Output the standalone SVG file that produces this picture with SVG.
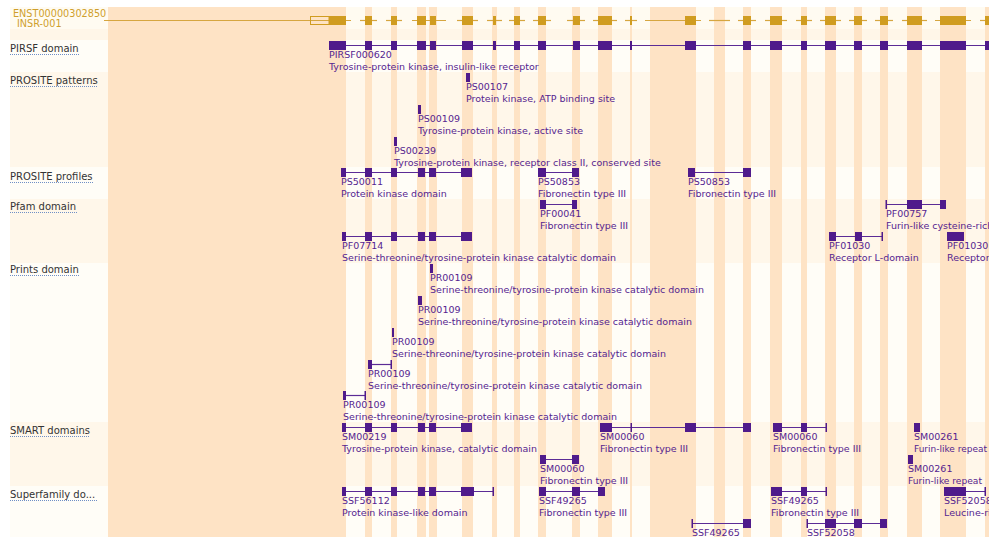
<svg xmlns="http://www.w3.org/2000/svg" width="989" height="537" viewBox="0 0 989 537">
<style>
.lbl{font-family:"DejaVu Sans",sans-serif;font-size:10px;fill:#333}
.ul{stroke:#6f8fc6;stroke-width:1;stroke-dasharray:1,1}
.ft{font-family:"DejaVu Sans",sans-serif;font-size:9.5px;fill:#55248f}
.tt{font-family:"DejaVu Sans",sans-serif;font-size:9.7px;fill:#cf9f2c}
.b{fill:#4f1a8b}
.ln{stroke:#5b2b96;stroke-width:1.2}
.ex{fill:#d09c20}
.gl{stroke:#d6a640;stroke-width:1.2}
.st{fill:#fee3c5}
</style>
<rect width="989" height="537" fill="#ffffff"/>
<g id="bands">
<rect x="10" y="7" width="979" height="22" fill="#fffbf1"/>
<rect x="10" y="29" width="979" height="11" fill="#fff6e8"/>
<rect x="10" y="40" width="979" height="32" fill="#fffdf7"/>
<rect x="10" y="72" width="979" height="95" fill="#fff7ea"/>
<rect x="10" y="167" width="979" height="32" fill="#fffdf7"/>
<rect x="10" y="199" width="979" height="64" fill="#fff7ea"/>
<rect x="10" y="263" width="979" height="159" fill="#fffdf7"/>
<rect x="10" y="422" width="979" height="64" fill="#fff7ea"/>
<rect x="10" y="486" width="979" height="51" fill="#fffdf7"/>
</g>
<g id="stripes">
<rect class="st" x="108" y="7" width="238" height="530"/>
<rect class="st" x="365" y="7" width="7" height="530"/>
<rect class="st" x="391" y="7" width="6" height="530"/>
<rect class="st" x="417" y="7" width="9" height="530"/>
<rect class="st" x="429" y="7" width="8" height="530"/>
<rect class="st" x="462" y="7" width="11" height="530"/>
<rect class="st" x="492" y="7" width="5" height="530"/>
<rect class="st" x="514" y="7" width="6" height="530"/>
<rect class="st" x="538" y="7" width="8" height="530"/>
<rect class="st" x="572" y="7" width="8" height="530"/>
<rect class="st" x="598" y="7" width="14" height="530"/>
<rect class="st" x="630" y="7" width="2" height="530"/>
<rect class="st" x="650" y="7" width="46" height="530"/>
<rect class="st" x="714" y="7" width="11" height="530"/>
<rect class="st" x="743" y="7" width="8" height="530"/>
<rect class="st" x="770" y="7" width="12" height="530"/>
<rect class="st" x="801" y="7" width="6" height="530"/>
<rect class="st" x="825" y="7" width="11" height="530"/>
<rect class="st" x="854" y="7" width="8" height="530"/>
<rect class="st" x="880" y="7" width="8" height="530"/>
<rect class="st" x="907" y="7" width="15" height="530"/>
<rect class="st" x="940" y="7" width="26" height="530"/>
<rect class="st" x="985" y="7" width="4" height="530"/>
</g>
<g id="track-labels">
<text class="lbl" x="10" y="52">PIRSF domain</text><line class="ul" x1="10" y1="54.5" x2="80" y2="54.5"/>
<text class="lbl" x="10" y="84">PROSITE patterns</text><line class="ul" x1="10" y1="86.5" x2="98" y2="86.5"/>
<text class="lbl" x="10" y="180">PROSITE profiles</text><line class="ul" x1="10" y1="182.5" x2="93" y2="182.5"/>
<text class="lbl" x="10" y="210">Pfam domain</text><line class="ul" x1="10" y1="212.5" x2="77" y2="212.5"/>
<text class="lbl" x="10" y="273">Prints domain</text><line class="ul" x1="10" y1="275.5" x2="80" y2="275.5"/>
<text class="lbl" x="10" y="434">SMART domains</text><line class="ul" x1="10" y1="436.5" x2="90" y2="436.5"/>
<text class="lbl" x="10" y="498">Superfamily do...</text><line class="ul" x1="10" y1="500.5" x2="97" y2="500.5"/>
</g>
<g id="transcript">
<text class="tt" x="13" y="17">ENST00000302850</text>
<text class="tt" x="17" y="27">INSR-001</text>
<g id="intron-lines">
<line class="gl" x1="104" y1="20.5" x2="351" y2="20.5"/>
<line class="gl" x1="360" y1="20.5" x2="377" y2="20.5"/>
<line class="gl" x1="386" y1="20.5" x2="402" y2="20.5"/>
<line class="gl" x1="412" y1="20.5" x2="446" y2="20.5"/>
<line class="gl" x1="457" y1="20.5" x2="478" y2="20.5"/>
<line class="gl" x1="487" y1="20.5" x2="502" y2="20.5"/>
<line class="gl" x1="509" y1="20.5" x2="525" y2="20.5"/>
<line class="gl" x1="533" y1="20.5" x2="551" y2="20.5"/>
<line class="gl" x1="567" y1="20.5" x2="585" y2="20.5"/>
<line class="gl" x1="593" y1="20.5" x2="617" y2="20.5"/>
<line class="gl" x1="625" y1="20.5" x2="637" y2="20.5"/>
<line class="gl" x1="645" y1="20.5" x2="701" y2="20.5"/>
<line class="gl" x1="709" y1="20.5" x2="730" y2="20.5"/>
<line class="gl" x1="738" y1="20.5" x2="756" y2="20.5"/>
<line class="gl" x1="765" y1="20.5" x2="787" y2="20.5"/>
<line class="gl" x1="796" y1="20.5" x2="812" y2="20.5"/>
<line class="gl" x1="820" y1="20.5" x2="841" y2="20.5"/>
<line class="gl" x1="849" y1="20.5" x2="867" y2="20.5"/>
<line class="gl" x1="875" y1="20.5" x2="893" y2="20.5"/>
<line class="gl" x1="902" y1="20.5" x2="927" y2="20.5"/>
<line class="gl" x1="935" y1="20.5" x2="971" y2="20.5"/>
<line class="gl" x1="980" y1="20.5" x2="989" y2="20.5"/>
</g>
<rect x="310.5" y="16.5" width="18.5" height="8" fill="none" stroke="#d09c20" stroke-width="1"/>
<rect class="ex" x="329" y="16" width="17" height="9"/>
<rect class="ex" x="365" y="16" width="7" height="9"/>
<rect class="ex" x="391" y="16" width="6" height="9"/>
<rect class="ex" x="417" y="16" width="9" height="9"/>
<rect class="ex" x="430" y="16" width="6" height="9"/>
<rect class="ex" x="462" y="16" width="11" height="9"/>
<rect class="ex" x="493" y="16" width="3" height="9"/>
<rect class="ex" x="514" y="16" width="6" height="9"/>
<rect class="ex" x="538" y="16" width="8" height="9"/>
<rect class="ex" x="573" y="16" width="7" height="9"/>
<rect class="ex" x="598" y="16" width="14" height="9"/>
<rect class="ex" x="630" y="16" width="2" height="9"/>
<rect class="ex" x="685" y="16" width="11" height="9"/>
<rect class="ex" x="743" y="16" width="8" height="9"/>
<rect class="ex" x="770" y="16" width="12" height="9"/>
<rect class="ex" x="801" y="16" width="6" height="9"/>
<rect class="ex" x="825" y="16" width="11" height="9"/>
<rect class="ex" x="854" y="16" width="8" height="9"/>
<rect class="ex" x="880" y="16" width="8" height="9"/>
<rect class="ex" x="907" y="16" width="15" height="9"/>
<rect class="ex" x="940" y="16" width="26" height="9"/>
<rect class="ex" x="985" y="16" width="4" height="9"/>
</g>
<g id="connectors">
<line class="ln" x1="329" y1="45.5" x2="989" y2="45.5"/>
<line class="ln" x1="341" y1="172.5" x2="472" y2="172.5"/>
<line class="ln" x1="538" y1="172.5" x2="579" y2="172.5"/>
<line class="ln" x1="688" y1="172.5" x2="751" y2="172.5"/>
<line class="ln" x1="540" y1="204.5" x2="577" y2="204.5"/>
<line class="ln" x1="886" y1="204.5" x2="946" y2="204.5"/>
<line class="ln" x1="342" y1="236.5" x2="472" y2="236.5"/>
<line class="ln" x1="829" y1="236.5" x2="882" y2="236.5"/>
<line class="ln" x1="368" y1="364.5" x2="391" y2="364.5"/>
<line class="ln" x1="343" y1="395.5" x2="365" y2="395.5"/>
<line class="ln" x1="342" y1="427.5" x2="472" y2="427.5"/>
<line class="ln" x1="600" y1="427.5" x2="751" y2="427.5"/>
<line class="ln" x1="773" y1="427.5" x2="826" y2="427.5"/>
<line class="ln" x1="540" y1="459.5" x2="579" y2="459.5"/>
<line class="ln" x1="342" y1="491.5" x2="493" y2="491.5"/>
<line class="ln" x1="539" y1="491.5" x2="605" y2="491.5"/>
<line class="ln" x1="771" y1="491.5" x2="826" y2="491.5"/>
<line class="ln" x1="944" y1="491.5" x2="985" y2="491.5"/>
<line class="ln" x1="692" y1="523.5" x2="751" y2="523.5"/>
<line class="ln" x1="807" y1="523.5" x2="887" y2="523.5"/>
</g>
<g id="PIRSF000620">
<rect class="b" x="329" y="41" width="17" height="9"/><rect class="b" x="365" y="41" width="7" height="9"/><rect class="b" x="391" y="41" width="6" height="9"/><rect class="b" x="417" y="41" width="9" height="9"/><rect class="b" x="430" y="41" width="6" height="9"/><rect class="b" x="462" y="41" width="11" height="9"/><rect class="b" x="493" y="41" width="3" height="9"/><rect class="b" x="514" y="41" width="6" height="9"/><rect class="b" x="538" y="41" width="8" height="9"/><rect class="b" x="573" y="41" width="7" height="9"/><rect class="b" x="598" y="41" width="14" height="9"/><rect class="b" x="630" y="41" width="2" height="9"/><rect class="b" x="685" y="41" width="11" height="9"/><rect class="b" x="743" y="41" width="8" height="9"/><rect class="b" x="770" y="41" width="12" height="9"/><rect class="b" x="801" y="41" width="6" height="9"/><rect class="b" x="825" y="41" width="11" height="9"/><rect class="b" x="854" y="41" width="8" height="9"/><rect class="b" x="880" y="41" width="8" height="9"/><rect class="b" x="907" y="41" width="15" height="9"/><rect class="b" x="940" y="41" width="26" height="9"/><rect class="b" x="985" y="41" width="4" height="9"/>
<text class="ft" x="329" y="58">PIRSF000620</text><text class="ft" x="329" y="70">Tyrosine-protein kinase, insulin-like receptor</text>
</g>
<g id="PS00107">
<rect class="b" x="466" y="73" width="4" height="9"/>
<text class="ft" x="466" y="90">PS00107</text><text class="ft" x="466" y="102">Protein kinase, ATP binding site</text>
</g>
<g id="PS00109">
<rect class="b" x="418" y="105" width="3" height="9"/>
<text class="ft" x="418" y="122">PS00109</text><text class="ft" x="418" y="134">Tyrosine-protein kinase, active site</text>
</g>
<g id="PS00239">
<rect class="b" x="394" y="137" width="3" height="9"/>
<text class="ft" x="394" y="154">PS00239</text><text class="ft" x="394" y="166">Tyrosine-protein kinase, receptor class II, conserved site</text>
</g>
<g id="PS50011">
<rect class="b" x="341" y="168" width="5" height="9"/><rect class="b" x="365" y="168" width="7" height="9"/><rect class="b" x="391" y="168" width="6" height="9"/><rect class="b" x="418" y="168" width="7" height="9"/><rect class="b" x="429" y="168" width="7" height="9"/><rect class="b" x="461" y="168" width="11" height="9"/>
<text class="ft" x="341" y="185">PS50011</text><text class="ft" x="341" y="197">Protein kinase domain</text>
</g>
<g id="PS50853-a">
<rect class="b" x="538" y="168" width="8" height="9"/><rect class="b" x="572" y="168" width="7" height="9"/>
<text class="ft" x="538" y="185">PS50853</text><text class="ft" x="538" y="197">Fibronectin type III</text>
</g>
<g id="PS50853-b">
<rect class="b" x="688" y="168" width="7" height="9"/><rect class="b" x="743" y="168" width="8" height="9"/>
<text class="ft" x="688" y="185">PS50853</text><text class="ft" x="688" y="197">Fibronectin type III</text>
</g>
<g id="PF00041">
<rect class="b" x="540" y="200" width="6" height="9"/><rect class="b" x="572" y="200" width="5" height="9"/>
<text class="ft" x="540" y="217">PF00041</text><text class="ft" x="540" y="229">Fibronectin type III</text>
</g>
<g id="PF00757">
<rect class="b" x="885.5" y="200" width="1.5" height="9"/><rect class="b" x="907" y="200" width="15" height="9"/><rect class="b" x="940" y="200" width="6" height="9"/>
<text class="ft" x="886" y="217">PF00757</text><text class="ft" x="886" y="229">Furin-like cysteine-rich</text>
</g>
<g id="PF07714">
<rect class="b" x="342" y="232" width="4" height="9"/><rect class="b" x="365" y="232" width="7" height="9"/><rect class="b" x="391" y="232" width="6" height="9"/><rect class="b" x="418" y="232" width="7" height="9"/><rect class="b" x="429" y="232" width="7" height="9"/><rect class="b" x="461" y="232" width="11" height="9"/>
<text class="ft" x="342" y="249">PF07714</text><text class="ft" x="342" y="261">Serine-threonine/tyrosine-protein kinase catalytic domain</text>
</g>
<g id="PF01030-a">
<rect class="b" x="829" y="232" width="7" height="9"/><rect class="b" x="855" y="232" width="7" height="9"/><rect class="b" x="881.5" y="232" width="1.5" height="9"/>
<text class="ft" x="829" y="249">PF01030</text><text class="ft" x="829" y="261">Receptor L-domain</text>
</g>
<g id="PF01030-b">
<rect class="b" x="947" y="232" width="17" height="9"/>
<text class="ft" x="947" y="249">PF01030</text><text class="ft" x="947" y="261">Receptor</text>
</g>
<g id="PR00109-1">
<rect class="b" x="430" y="264" width="3" height="9"/>
<text class="ft" x="430" y="281">PR00109</text><text class="ft" x="430" y="293">Serine-threonine/tyrosine-protein kinase catalytic domain</text>
</g>
<g id="PR00109-2">
<rect class="b" x="418" y="296" width="4" height="9"/>
<text class="ft" x="418" y="313">PR00109</text><text class="ft" x="418" y="325">Serine-threonine/tyrosine-protein kinase catalytic domain</text>
</g>
<g id="PR00109-3">
<rect class="b" x="392" y="328" width="2" height="9"/>
<text class="ft" x="392" y="345">PR00109</text><text class="ft" x="392" y="357">Serine-threonine/tyrosine-protein kinase catalytic domain</text>
</g>
<g id="PR00109-4">
<rect class="b" x="368" y="360" width="4" height="9"/><rect class="b" x="390.5" y="360" width="1.5" height="9"/>
<text class="ft" x="368" y="377">PR00109</text><text class="ft" x="368" y="389">Serine-threonine/tyrosine-protein kinase catalytic domain</text>
</g>
<g id="PR00109-5">
<rect class="b" x="343" y="391" width="3" height="9"/><rect class="b" x="364.5" y="391" width="1.5" height="9"/>
<text class="ft" x="343" y="408">PR00109</text><text class="ft" x="343" y="420">Serine-threonine/tyrosine-protein kinase catalytic domain</text>
</g>
<g id="SM00219">
<rect class="b" x="342" y="423" width="4" height="9"/><rect class="b" x="365" y="423" width="7" height="9"/><rect class="b" x="391" y="423" width="6" height="9"/><rect class="b" x="418" y="423" width="7" height="9"/><rect class="b" x="429" y="423" width="7" height="9"/><rect class="b" x="461" y="423" width="11" height="9"/>
<text class="ft" x="342" y="440">SM00219</text><text class="ft" x="342" y="452">Tyrosine-protein kinase, catalytic domain</text>
</g>
<g id="SM00060-a">
<rect class="b" x="600" y="423" width="12" height="9"/><rect class="b" x="630.5" y="423" width="1.5" height="9"/><rect class="b" x="685" y="423" width="11" height="9"/><rect class="b" x="743" y="423" width="8" height="9"/>
<text class="ft" x="600" y="440">SM00060</text><text class="ft" x="600" y="452">Fibronectin type III</text>
</g>
<g id="SM00060-c">
<rect class="b" x="773" y="423" width="9" height="9"/><rect class="b" x="801" y="423" width="6" height="9"/><rect class="b" x="825.5" y="423" width="1.5" height="9"/>
<text class="ft" x="773" y="440">SM00060</text><text class="ft" x="773" y="452">Fibronectin type III</text>
</g>
<g id="SM00261-a">
<rect class="b" x="914" y="423" width="6" height="9"/>
<text class="ft" x="914" y="440">SM00261</text><text class="ft" x="914" y="452" textLength="73" lengthAdjust="spacingAndGlyphs">Furin-like repeat</text>
</g>
<g id="SM00060-b">
<rect class="b" x="540" y="455" width="6" height="9"/><rect class="b" x="572" y="455" width="7" height="9"/>
<text class="ft" x="540" y="472">SM00060</text><text class="ft" x="540" y="484">Fibronectin type III</text>
</g>
<g id="SM00261-b">
<rect class="b" x="908" y="455" width="5" height="9"/>
<text class="ft" x="908" y="472">SM00261</text><text class="ft" x="908" y="484" textLength="74" lengthAdjust="spacingAndGlyphs">Furin-like repeat</text>
</g>
<g id="SSF56112">
<rect class="b" x="342" y="487" width="4" height="9"/><rect class="b" x="365" y="487" width="7" height="9"/><rect class="b" x="391" y="487" width="6" height="9"/><rect class="b" x="418" y="487" width="7" height="9"/><rect class="b" x="429" y="487" width="7" height="9"/><rect class="b" x="461" y="487" width="13" height="9"/><rect class="b" x="492.5" y="487" width="1.5" height="9"/>
<text class="ft" x="342" y="504">SSF56112</text><text class="ft" x="342" y="516">Protein kinase-like domain</text>
</g>
<g id="SSF49265-a">
<rect class="b" x="539" y="487" width="7" height="9"/><rect class="b" x="572" y="487" width="8" height="9"/><rect class="b" x="598" y="487" width="7" height="9"/>
<text class="ft" x="539" y="504">SSF49265</text><text class="ft" x="539" y="516">Fibronectin type III</text>
</g>
<g id="SSF49265-b">
<rect class="b" x="771" y="487" width="11" height="9"/><rect class="b" x="801" y="487" width="6" height="9"/><rect class="b" x="825.5" y="487" width="1.5" height="9"/>
<text class="ft" x="771" y="504">SSF49265</text><text class="ft" x="771" y="516">Fibronectin type III</text>
</g>
<g id="SSF52058-a">
<rect class="b" x="944" y="487" width="22" height="9"/><rect class="b" x="984.5" y="487" width="1.5" height="9"/>
<text class="ft" x="944" y="504">SSF52058</text><text class="ft" x="944" y="516">Leucine-rich</text>
</g>
<g id="SSF49265-c">
<rect class="b" x="691.5" y="519" width="1.5" height="9"/><rect class="b" x="743" y="519" width="8" height="9"/>
<text class="ft" x="692" y="536">SSF49265</text>
</g>
<g id="SSF52058-b">
<rect class="b" x="806.5" y="519" width="1.5" height="9"/><rect class="b" x="825" y="519" width="11" height="9"/><rect class="b" x="854" y="519" width="8" height="9"/><rect class="b" x="880" y="519" width="7" height="9"/>
<text class="ft" x="807" y="536">SSF52058</text>
</g>
</svg>
